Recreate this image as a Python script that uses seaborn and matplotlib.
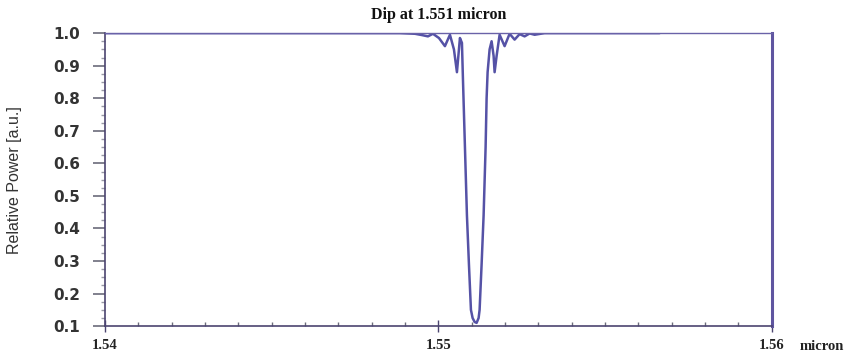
import matplotlib
matplotlib.use("Agg")
import matplotlib.pyplot as plt
from matplotlib.ticker import MultipleLocator, FixedLocator, FixedFormatter
import numpy as np
import pandas as pd
import seaborn as sns

# Transmission spectrum around the 1.551 micron dip
wavelength = [
    1.54000, 1.54885, 1.54930, 1.54951, 1.54969, 1.54984, 1.55002, 1.55020,
    1.55035, 1.55047, 1.55056, 1.55065, 1.55071, 1.55074, 1.55080, 1.55086,
    1.55092, 1.55098, 1.55103, 1.55109, 1.55115, 1.55121, 1.55124, 1.55130,
    1.55136, 1.55142, 1.55145, 1.55148, 1.55154, 1.55160, 1.55166, 1.55169,
    1.55175, 1.55184, 1.55199, 1.55214, 1.55229, 1.55244, 1.55259, 1.55274,
    1.55289, 1.55319, 1.55664,
]
power = [
    1.000, 1.000, 0.998, 0.994, 0.990, 0.998, 0.985, 0.960,
    0.995, 0.950, 0.880, 0.985, 0.970, 0.860, 0.650, 0.440,
    0.290, 0.150, 0.125, 0.113, 0.110, 0.125, 0.150, 0.290,
    0.440, 0.650, 0.800, 0.880, 0.950, 0.975, 0.930, 0.880,
    0.930, 0.995, 0.960, 0.998, 0.980, 0.997, 0.990, 0.999,
    0.995, 1.000, 1.000,
]

x_ticks = [1.54, 1.55, 1.56]
x_tick_labels = ["1.54", "1.55", "1.56"]
y_ticks = [0.1, 0.2, 0.3, 0.4, 0.5, 0.6, 0.7, 0.8, 0.9, 1.0]

df = pd.DataFrame({"wavelength": wavelength, "power": power})

sns.set_style("white")
plt.rcParams["font.family"] = ["Liberation Sans", "DejaVu Sans"]

fig = plt.figure(figsize=(8.67, 3.6), dpi=100)
ax = fig.add_axes([0.121, 0.094, 0.769, 0.814])

sns.lineplot(data=df, x="wavelength", y="power", ax=ax,
             color="#5552a6", linewidth=1.8, estimator=None, sort=False)

ax.set_xlim(1.54, 1.56)
ax.set_ylim(0.1, 1.0)

# axis frame
ax.spines["left"].set_color("#4b4470")
ax.spines["bottom"].set_color("#4b4470")
ax.spines["top"].set_color("#6a62a8")
ax.spines["right"].set_color("#5f55a0")
ax.spines["left"].set_linewidth(1.2)
ax.spines["bottom"].set_linewidth(1.2)
ax.spines["top"].set_linewidth(1.0)
ax.spines["right"].set_linewidth(2.2)

# x ticks
ax.xaxis.set_major_locator(FixedLocator(x_ticks))
ax.xaxis.set_major_formatter(FixedFormatter(x_tick_labels))
ax.xaxis.set_minor_locator(MultipleLocator(0.001))
ax.tick_params(axis="x", which="major", direction="inout", length=8, width=1,
               color="#4b4470", pad=5, bottom=True)
ax.tick_params(axis="x", which="minor", direction="in", length=3, width=1,
               color="#6b6b7a", bottom=True)
for lbl in ax.get_xticklabels():
    lbl.set_fontfamily("Liberation Serif")
    lbl.set_fontweight("bold")
    lbl.set_fontsize(10.5)
    lbl.set_color("#222222")

ax.set_xlabel("micron", fontfamily="Liberation Serif", fontweight="bold",
              fontsize=10.5, color="#222222", va="center")
ax.xaxis.set_label_coords(1.075, -0.068)

# y ticks
ax.set_yticks(y_ticks)
ax.set_yticklabels([f"{v:.1f}" for v in y_ticks])
ax.yaxis.set_minor_locator(MultipleLocator(0.025))
ax.tick_params(axis="y", which="major", direction="out", length=9, width=1.2,
               color="#6b6b7a", pad=9, left=True)
ax.tick_params(axis="y", which="minor", direction="out", length=3, width=1,
               color="#9a9aa6", left=True)
for lbl in ax.get_yticklabels():
    lbl.set_fontfamily("DejaVu Sans")
    lbl.set_fontweight("bold")
    lbl.set_fontsize(11)
    lbl.set_color("#333333")

ax.set_ylabel("Relative Power [a.u.]", fontsize=11.5, color="#333333",
              fontstretch="condensed", labelpad=22)

ax.set_title("Dip at 1.551 micron", fontfamily="Liberation Serif",
             fontweight="bold", fontsize=11.5, color="#111111", pad=10)

fig.savefig("out.png", dpi=100)
